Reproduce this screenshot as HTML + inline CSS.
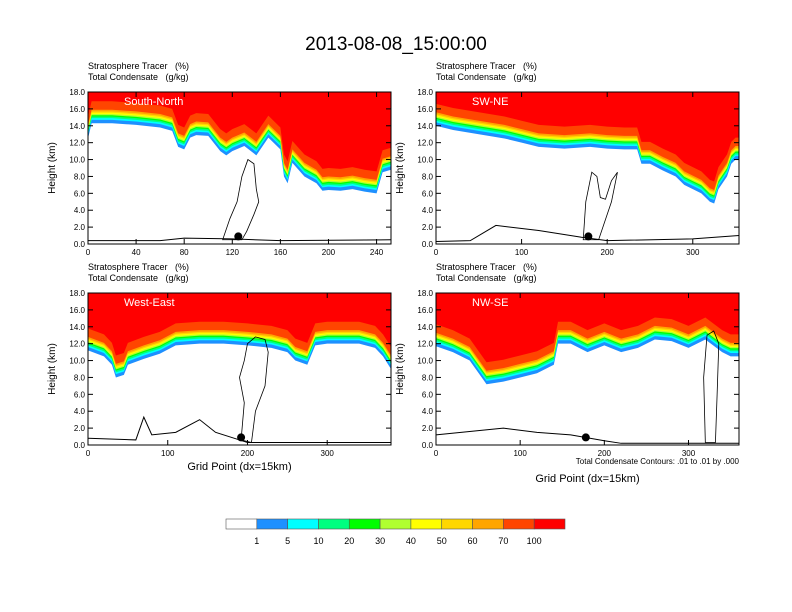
<!DOCTYPE html>
<html><head><meta charset="utf-8">
<style>
body{margin:0;background:#fff;}
svg{display:block;font-family:"Liberation Sans",sans-serif;}
text{white-space:pre;}
</style></head>
<body>
<svg id="chart" width="792" height="612" viewBox="0 0 792 612">
<text x="396" y="50" font-size="19" text-anchor="middle">2013-08-08_15:00:00</text>
<g id="panels"></g>
<g id="colorbar"></g>
</svg>
<script>
// ---- data ----
const levelLabels = ["1","5","10","20","30","40","50","60","70","100"];
const levelColors = ["#ffffff","#1e90ff","#00ffff","#00ff80","#00ff00","#b0ff30","#ffff00","#ffd700","#ffa500","#ff4500","#ff0000"];
const bandOffsets = [0,0.4,0.6,0.8,0.95,1.1,1.25,1.4,1.6,2.6]; // km above tracer base for colors 1..10

const p1X = [0,3,10,20,40,60,70,75,80,85,90,100,110,115,120,130,140,150,160,163,166,170,180,190,195,200,210,220,230,240,245,252];
const p1Base = [12.5,14.3,14.3,14.3,14.1,13.8,13.4,11.5,11.2,12.6,12.9,12.8,11.0,10.5,11.0,11.6,10.5,12.6,11.2,8.0,7.2,9.6,8.0,7.2,6.3,6.4,6.3,6.5,6.2,6.0,8.5,8.8];
const p1Ground = [[0,0.4],[60,0.4],[80,0.7],[120,0.6],[160,0.4],[252,0.5]];
const p1Cloud = [[112,0.5],[118,3.0],[124,5],[128,8],[133,10.0],[138,9.5],[140,6.5],[142,5],[138,3.5],[132,1.5],[128,0.5]];

const p2X = [0,20,50,80,100,120,150,180,200,220,235,240,250,265,280,290,300,310,320,325,330,340,345,350,354];
const p2Base = [14,13.5,13,12.5,12,11.5,11.3,11.5,11.3,11.2,11.2,9.5,9.5,8.7,8.0,7.0,6.5,6.0,5.0,4.8,6.5,8,9.5,10,10];
const p2Ground = [[0,0.3],[40,0.4],[70,2.2],[120,1.6],[170,0.8],[200,0.4],[300,0.6],[354,1.0]];
const p2Cloud = [[172,0.5],[175,5],[182,8.5],[188,8.0],[192,5.5],[198,5.3],[205,7.5],[212,8.5],[205,5],[190,0.5]];

const p3X = [0,20,30,35,45,50,70,90,110,140,170,200,230,250,260,275,285,300,320,340,360,370,380];
const p3Base = [11.2,10.5,9.5,8.0,8.3,9.5,10.2,10.8,11.8,12,12,11.8,11.5,11.0,10.0,9.5,11.8,12.0,12,12,11.5,10.5,9];
const p3Ground = [[0,0.8],[60,0.6],[70,3.3],[80,1.2],[110,1.5],[140,3.0],[160,1.5],[190,0.6],[200,0.3],[380,0.3]];
const p3Cloud = [[192,0.6],[196,5],[190,8],[196,10],[200,12],[210,12.8],[222,12.5],[226,11],[222,7],[210,4],[205,0.3]];

const p4X = [0,20,40,60,80,100,120,130,140,145,160,180,200,220,240,260,280,300,320,340,350,360];
const p4Base = [11.7,11.0,10.0,7.2,7.5,8.0,8.5,9.0,9.5,12.0,12.0,11.0,11.8,11.0,11.5,12.5,12.3,11.5,12.5,11.0,10.5,10.5];
const p4Ground = [[0,1.2],[40,1.6],[80,2.0],[120,1.5],[160,1.2],[200,0.5],[220,0.2],[360,0.2]];
const p4Cloud = [[320,0.3],[318,8],[322,13.0],[330,13.5],[336,12],[334,6],[332,0.3]];

const yTicks = [0,2,4,6,8,10,12,14,16,18];
const panels = [
 {name:"South-North",x0:88,y0:92,xmax:252,xs:p1X,base:p1Base,ground:p1Ground,cloud:p1Cloud,ticks:[0,40,80,120,160,200,240],dot:125,xlabel:false},
 {name:"SW-NE",x0:436,y0:92,xmax:354,xs:p2X,base:p2Base,ground:p2Ground,cloud:p2Cloud,ticks:[0,100,200,300],dot:178,xlabel:false},
 {name:"West-East",x0:88,y0:293,xmax:380,xs:p3X,base:p3Base,ground:p3Ground,cloud:p3Cloud,ticks:[0,100,200,300],dot:192,xlabel:true},
 {name:"NW-SE",x0:436,y0:293,xmax:360,xs:p4X,base:p4Base,ground:p4Ground,cloud:p4Cloud,ticks:[0,100,200,300],dot:178,xlabel:true,note:true}
];
// ---- drawing ----
const NS="http://www.w3.org/2000/svg";
function mk(tag,attrs,parent){const e=document.createElementNS(NS,tag);for(const k in attrs)e.setAttribute(k,attrs[k]);parent.appendChild(e);return e;}
const W=303,H=152;
const root=document.getElementById('panels');
panels.forEach((p,pi)=>{
  const g=mk('g',{},root);
  
  
  const sx=v=>p.x0+v/p.xmax*W, sy=v=>p.y0+H-v/18*H;
  for(let i=1;i<levelColors.length;i++){
    let d="M"+sx(p.xs[0])+","+sy(18);
    p.xs.forEach((x,j)=>{d+=" L"+sx(x)+","+sy(Math.min(18,p.base[j]+bandOffsets[i-1]));});
    d+=" L"+sx(p.xs[p.xs.length-1])+","+sy(18)+"Z";
    const band=mk('path',{d:d,fill:levelColors[i]},g);
    
    
  }
  let gd="";p.ground.forEach((q,j)=>{gd+=(j?" L":"M")+sx(q[0])+","+sy(q[1]);});
  const gl=mk('path',{d:gd,fill:"none",stroke:"#000","stroke-width":1},g);
  
  
  let cd="";p.cloud.forEach((q,j)=>{cd+=(j?" L":"M")+sx(q[0])+","+sy(q[1]);});
  const cl=mk('path',{d:cd+"Z",fill:"none",stroke:"#000","stroke-width":0.8},g);
  
  
  const dot=mk('circle',{cx:sx(p.dot),cy:sy(0.9),r:4,fill:"#000"},g);
  
  
  const fr=mk('rect',{x:p.x0,y:p.y0,width:W,height:H,fill:"none",stroke:"#000","stroke-width":1},g);
  
  
  const lab=mk('text',{x:p.x0+36,y:p.y0+13,fill:"#fff","font-size":11},g);lab.textContent=p.name;
  
  
  const t1=mk('text',{x:p.x0,y:p.y0-23,"font-size":9},g);t1.textContent="Stratosphere Tracer   (%)";
  
  
  const t2=mk('text',{x:p.x0,y:p.y0-12,"font-size":9},g);t2.textContent="Total Condensate   (g/kg)";
  
  
  yTicks.forEach(v=>{
    mk('line',{x1:p.x0,x2:p.x0+5,y1:sy(v),y2:sy(v),stroke:"#000"},g);
    mk('line',{x1:p.x0+W,x2:p.x0+W-5,y1:sy(v),y2:sy(v),stroke:"#000"},g);
    const t=mk('text',{x:p.x0-3,y:sy(v)+3,"font-size":8,"text-anchor":"end"},g);t.textContent=v.toFixed(1);
    
    
  });
  p.ticks.forEach(v=>{
    mk('line',{x1:sx(v),x2:sx(v),y1:p.y0+H,y2:p.y0+H-5,stroke:"#000"},g);
    mk('line',{x1:sx(v),x2:sx(v),y1:p.y0,y2:p.y0+5,stroke:"#000"},g);
    const t=mk('text',{x:sx(v),y:p.y0+H+11,"font-size":8,"text-anchor":"middle"},g);t.textContent=v;
    
    
  });
  const yt=mk('text',{x:0,y:0,"font-size":10,"text-anchor":"middle",transform:"translate("+(p.x0-33)+","+(p.y0+H/2)+") rotate(-90)"},g);yt.textContent="Height (km)";
  
  
  if(p.xlabel){
    const xt=mk('text',{x:p.x0+W/2,y:p.note?482:470,"font-size":11,"text-anchor":"middle"},g);xt.textContent="Grid Point (dx=15km)";
    
    
  }
  if(p.note){
    const nt=mk('text',{x:p.x0+W,y:p.y0+H+19,"font-size":8,"text-anchor":"end"},g);nt.textContent="Total Condensate Contours: .01 to .01 by .000";
    
    
  }
});
const cb=document.getElementById('colorbar');
const cbx=226,cbw=339/levelColors.length;
levelColors.forEach((c,i)=>{
  const r=mk('rect',{x:cbx+i*cbw,y:519,width:cbw,height:10,fill:c,stroke:"#555","stroke-width":0.6},cb);
  
  
});
levelLabels.forEach((l,i)=>{
  const t=mk('text',{x:cbx+(i+1)*cbw,y:544,"font-size":9,"text-anchor":"middle"},cb);t.textContent=l;
  
  
});
</script>
</body></html>
